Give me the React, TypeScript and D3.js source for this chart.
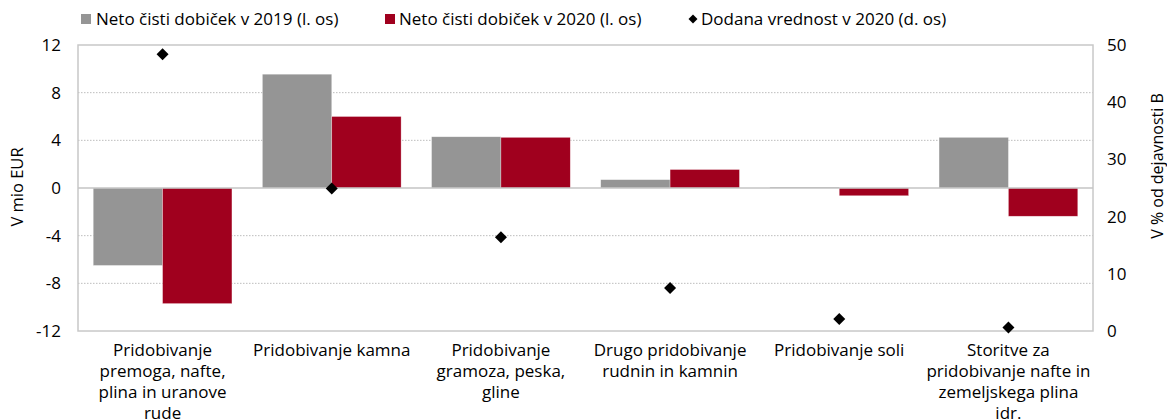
import React from "react";
import * as d3 from "d3";

const categories = [
  "Pridobivanje\npremoga, nafte,\nplina in uranove\nrude",
  "Pridobivanje kamna",
  "Pridobivanje\ngramoza, peska,\ngline",
  "Drugo pridobivanje\nrudnin in kamnin",
  "Pridobivanje soli",
  "Storitve za\npridobivanje nafte in\nzemeljskega plina\nidr.",
];
const profit2019 = [-6.5, 9.55, 4.3, 0.7, 0.08, 4.25];
const profit2020 = [-9.7, 6.0, 4.25, 1.55, -0.65, -2.37];
const valueAdded2020 = [48.4, 24.9, 16.4, 7.5, 2.1, 0.6];
const leftTicks = [-12, -8, -4, 0, 4, 8, 12];
const rightTicks = [0, 10, 20, 30, 40, 50];
const seriesNames = [
  "Neto čisti dobiček v 2019 (l. os)",
  "Neto čisti dobiček v 2020 (l. os)",
  "Dodana vrednost v 2020 (d. os)",
];

const W = 1167;
const H = 420;
const L = 78, R = 1093, T = 45, B = 331;
const FONT = "'Open Sans', sans-serif";
const GRAY = "#959595";
const RED = "#A0001E";

export default function App() {
  const x = d3.scaleBand<number>().domain(d3.range(categories.length)).range([L, R]).paddingInner(0).paddingOuter(0);
  const inner = d3.scaleBand<number>().domain([0, 1]).range([0, x.bandwidth() * 0.82]);
  const groupOffset = (x.bandwidth() - x.bandwidth() * 0.82) / 2;
  const yL = d3.scaleLinear().domain([-12, 12]).range([B, T]);
  const yR = d3.scaleLinear().domain([0, 50]).range([B, T]);
  const diamond = d3.symbol().type(d3.symbolSquare).size(72)() as string;
  const diamondSmall = d3.symbol().type(d3.symbolSquare).size(40)() as string;

  const bars = (vals: number[], k: number, fill: string) =>
    vals.map((v, i) => {
      const x0 = (x(i) as number) + groupOffset + (inner(k) as number);
      const y0 = yL(Math.max(0, v));
      const h = Math.abs(yL(v) - yL(0));
      return <rect key={`${k}-${i}`} x={x0} y={y0} width={inner.bandwidth()} height={Math.max(h, 1)} fill={fill} stroke="#ffffff" strokeOpacity={0.5} strokeWidth={0.6} />;
    });

  return (
    <svg width={W} height={H} style={{ display: "block", position: "absolute", left: 0, top: 0 }} fontFamily={FONT}>
      <rect x={0} y={0} width={W} height={H} fill="#fff" />
      {/* legend */}
      <g fontSize={17} fill="#000">
        <rect x={81} y={14} width={10} height={10} fill={GRAY} />
        <text x={96} y={25}>{seriesNames[0]}</text>
        <rect x={385} y={14} width={10} height={10} fill={RED} />
        <text x={399} y={25}>{seriesNames[1]}</text>
        <path d={diamondSmall} transform={`translate(693,19) rotate(45)`} fill="#000" />
        <text x={701} y={25}>{seriesNames[2]}</text>
      </g>
      {/* grid */}
      {leftTicks.filter((t) => t !== 0 && Math.abs(t) !== 12).map((t) => (
        <line key={t} x1={L} x2={R} y1={yL(t)} y2={yL(t)} stroke="#bdbdbd" strokeWidth={1} strokeDasharray="1.5,1.5" />
      ))}
      {/* plot border */}
      <rect x={L} y={T} width={R - L} height={B - T} fill="none" stroke="#c8c8c8" strokeWidth={1.5} />
      {bars(profit2019, 0, GRAY)}
      {bars(profit2020, 1, RED)}
      {/* zero line */}
      <line x1={L} x2={R} y1={yL(0)} y2={yL(0)} stroke="#c4c4c4" strokeWidth={1.5} />
      {valueAdded2020.map((v, i) => (
        <path key={i} d={diamond} transform={`translate(${(x(i) as number) + x.bandwidth() / 2},${yR(v)}) rotate(45)`} fill="#000" />
      ))}
      {/* left ticks */}
      <g fontSize={17} fill="#000" textAnchor="end">
        {leftTicks.map((t) => (
          <text key={t} x={61} y={yL(t) + 6}>{t}</text>
        ))}
      </g>
      <g fontSize={17} fill="#000" textAnchor="start">
        {rightTicks.map((t) => (
          <text key={t} x={1107} y={yR(t) + 6}>{t}</text>
        ))}
      </g>
      <text transform={`translate(23,${187}) rotate(-90)`} textAnchor="middle" fontSize={16.5}>V mio EUR</text>
      <text transform={`translate(1163,${166}) rotate(-90)`} textAnchor="middle" fontSize={16}>V % od dejavnosti B</text>
      {/* category labels */}
      <g fontSize={17} fill="#000" textAnchor="middle">
        {categories.map((c, i) => (
          <text key={i} x={(x(i) as number) + x.bandwidth() / 2} y={356}>
            {c.split("\n").map((ln, j) => (
              <tspan key={j} x={(x(i) as number) + x.bandwidth() / 2} dy={j === 0 ? 0 : 21}>{ln}</tspan>
            ))}
          </text>
        ))}
      </g>
    </svg>
  );
}
